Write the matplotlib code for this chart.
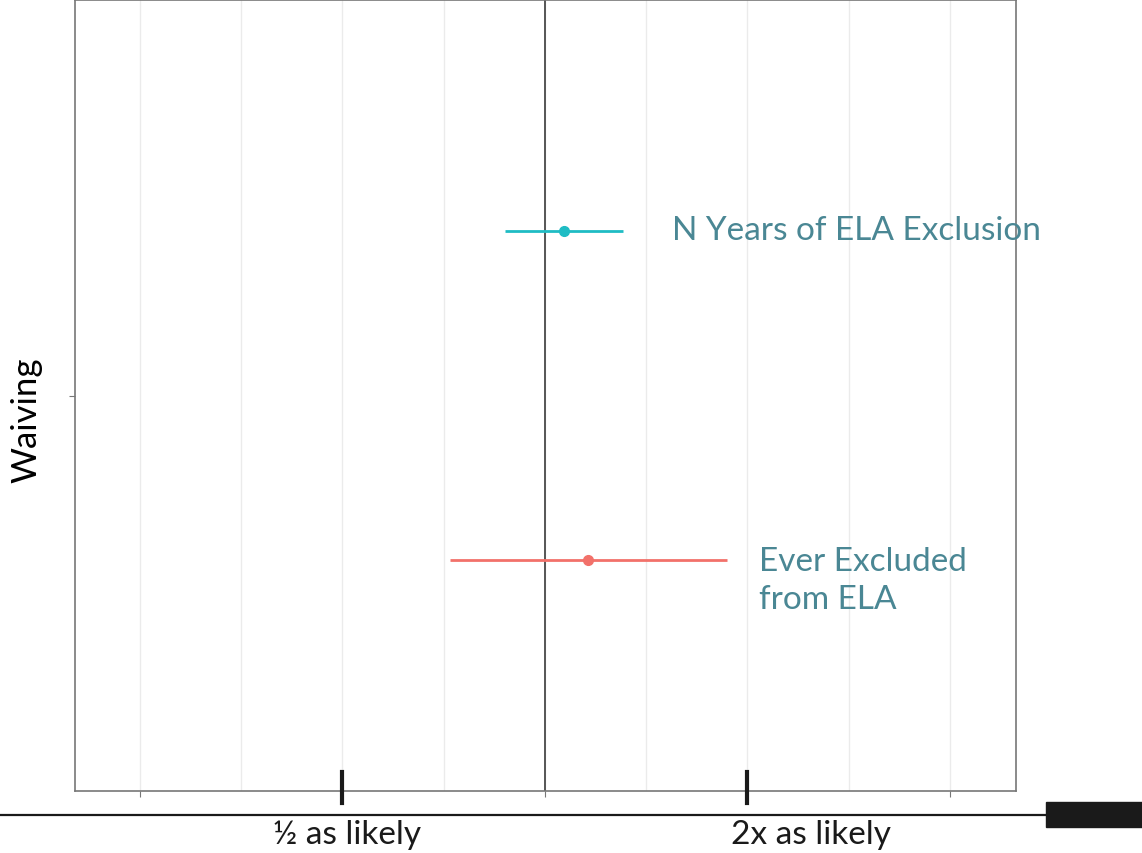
import numpy as np
import matplotlib.pyplot as plt
from matplotlib.patches import Rectangle
from matplotlib.transforms import blended_transform_factory, offset_copy

# odds ratios with 95% intervals, one model ("Waiving"), two predictors
predictors = ["N Years of ELA Exclusion", "Ever Excluded\nfrom ELA"]
odds_ratio = [1.067, 1.159]
ci_low = [0.872, 0.722]
ci_high = [1.307, 1.867]
dodge = [0.25, -0.25]
colors = ["#1FBCC4", "#F2716A"]
label_x = [1.546, 2.08]

bottom_ticks = [0.5, 2.0]
bottom_labels = ["½ as likely", "2x as likely"]
bottom_label_shift = [5, 64]  # px to the right of each tick

plt.rcParams['font.family'] = ['Lato', 'DejaVu Sans']

W, H = 1142, 854
fig = plt.figure(figsize=(W / 100, H / 100), dpi=100)
ax = fig.add_axes([75 / W, (H - 792) / H, (1016 - 75) / W, 791 / H])

ax.set_xscale('log', base=2)
ax.set_xlim(2 ** -2.321, 2 ** 2.326)
ax.set_ylim(0.4, 1.6)

for g in 2.0 ** np.arange(-2, 2.01, 0.5):
    ax.axvline(g, color='#EBEBEB', lw=1, zorder=0)
ax.axvline(1, color='#555555', lw=1.4, zorder=1)

line_step = 40  # px between label lines
for i in range(len(predictors)):
    y = 1 + dodge[i]
    ax.hlines(y, ci_low[i], ci_high[i], color=colors[i], lw=2, zorder=3)
    ax.plot(odds_ratio[i], y, 'o', color=colors[i], ms=7, zorder=4)
    # baseline of the first line sits a few px under the point
    n_extra = predictors[i].count('\n')
    shift = -(8 + line_step * n_extra) * 72 / fig.dpi
    trans = offset_copy(ax.transData, fig=fig, y=shift, units='points')
    ax.text(label_x[i], y, predictors[i], color='#4A8794', transform=trans,
            fontsize=24, va='baseline', ha='left', linespacing=1.33,
            clip_on=False)

ax.set_xticks([0.25, 1, 4])
ax.set_xticklabels([])
ax.xaxis.set_minor_locator(plt.NullLocator())
ax.set_yticks([1])
ax.set_yticklabels([])
ax.tick_params(axis='both', length=4, color='#777777', width=0.8)
ax.set_ylabel("Waiving", fontsize=25)
ax.yaxis.set_label_coords((42 - 75) / 941, 0.47)
for s in ax.spines.values():
    s.set_color('#777777')
    s.set_linewidth(1.2)

# "likelihood" scale drawn underneath the panel
tr = blended_transform_factory(ax.transData, fig.transFigure)
fig.add_artist(plt.Line2D([0, 1046 / W], [(H - 816) / H] * 2,
                          transform=fig.transFigure, color='#1A1A1A', lw=1.6))
fig.add_artist(Rectangle((1046 / W, (H - 828) / H), (W - 1046) / W, 25 / H,
                         transform=fig.transFigure, color='#1A1A1A'))
for t, lab, dx in zip(bottom_ticks, bottom_labels, bottom_label_shift):
    fig.add_artist(plt.Line2D([t, t], [(H - 773) / H, (H - 804) / H],
                              transform=tr, color='#1A1A1A', lw=3))
    px = ax.transData.transform((t, 1))[0] + dx
    fig.text(px / W, (H - 835) / H, lab, ha='center', va='center',
             fontsize=24, color='#1A1A1A')

fig.savefig('out.png', dpi=100)
